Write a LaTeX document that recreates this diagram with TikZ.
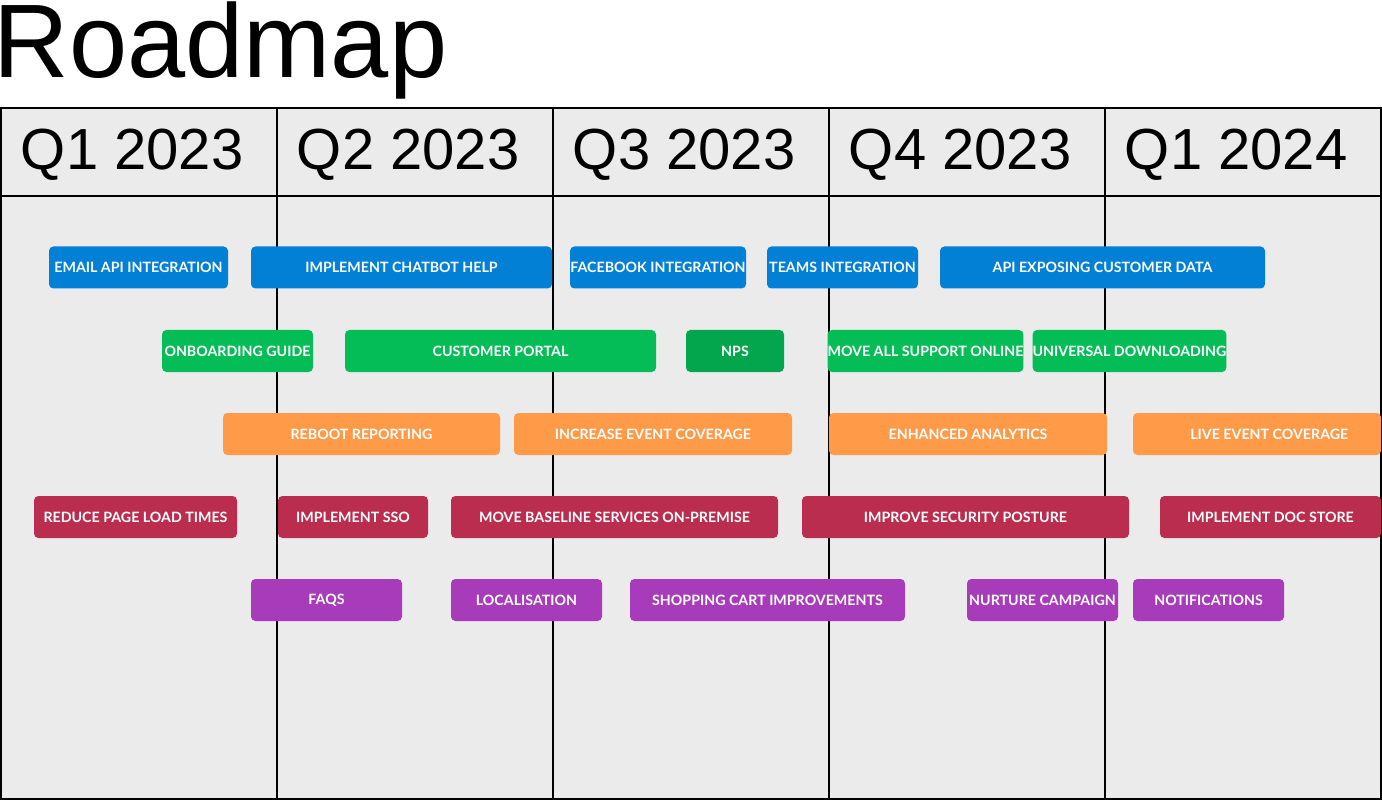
\documentclass[tikz,border=0pt]{standalone}
\usepackage{fontspec}
\setmainfont{Liberation Sans}
\newfontfamily\taskfont{Lato}
\definecolor{panelgrey}{HTML}{EBEBEB}
\definecolor{taskblue}{HTML}{0280D6}
\definecolor{taskgreen}{HTML}{05BD56}
\definecolor{npsgreen}{HTML}{04A64D}
\definecolor{taskorange}{HTML}{FF9A48}
\definecolor{taskred}{HTML}{BA2D4E}
\definecolor{taskpurple}{HTML}{A83BBA}
\begin{document}
\begin{tikzpicture}[x=0.02cm, y=-0.02cm, line width=1.1pt,
    task/.style={rounded corners=2.5pt, inner sep=0pt, minimum height=42*0.02cm,
      text=white, font=\taskfont\bfseries\fontsize{8.1}{10}\selectfont},
    quarter/.style={anchor=base west, inner sep=0pt, font=\fontsize{33}{36}\selectfont}]
  \useasboundingbox (0,0) rectangle (1382,800);
  % titre
  \node[anchor=base west, inner sep=0pt, font=\fontsize{59.5}{62}\selectfont] (title) at (-7,78) {Roadmap};

  % colonnes des trimestres
  \foreach \q/\lab [count=\i from 0] in {qa/Q1 2023, qb/Q2 2023, qc/Q3 2023, qd/Q4 2023, qe/Q1 2024} {
    \draw[fill=panelgrey] (1+276*\i,108) rectangle +(276,691);
    \draw (1+276*\i,196) -- +(276,0);
    \node[quarter] (\q) at (20+276*\i,170) {\lab};
  }

  % ligne 1 : integrations
  \node[task, fill=taskblue, minimum width=179*0.02cm] (email) at (138.5,267.5) {EMAIL API INTEGRATION};
  \node[task, fill=taskblue, minimum width=301*0.02cm] (chatbot) at (401.5,267.5) {IMPLEMENT CHATBOT HELP};
  \node[task, fill=taskblue, minimum width=176*0.02cm] (facebook) at (658,267.5) {FACEBOOK INTEGRATION};
  \node[task, fill=taskblue, minimum width=151*0.02cm] (teams) at (842.5,267.5) {TEAMS INTEGRATION};
  \node[task, fill=taskblue, minimum width=325*0.02cm] (apidata) at (1102.5,267.5) {API EXPOSING CUSTOMER DATA};

  % ligne 2 : clients
  \node[task, fill=taskgreen, minimum width=151*0.02cm] (onboarding) at (237.5,351) {ONBOARDING GUIDE};
  \node[task, fill=taskgreen, minimum width=311*0.02cm] (portal) at (500.5,351) {CUSTOMER PORTAL};
  \node[task, fill=npsgreen, minimum width=98*0.02cm] (nps) at (735,351) {NPS};
  \node[task, fill=taskgreen, minimum width=193*0.02cm] (support) at (925.5,351) {MOVE ALL SUPPORT ONLINE};
  \node[task, fill=taskgreen, minimum width=193*0.02cm] (download) at (1129.5,351) {UNIVERSAL DOWNLOADING};

  % ligne 3 : donnees
  \node[task, fill=taskorange, minimum width=277*0.02cm] (reboot) at (361.5,434) {REBOOT REPORTING};
  \node[task, fill=taskorange, minimum width=278*0.02cm] (increase) at (653,434) {INCREASE EVENT COVERAGE};
  \node[task, fill=taskorange, minimum width=278*0.02cm] (analytics) at (968,434) {ENHANCED ANALYTICS};
  \node[task, fill=taskorange, minimum width=248*0.02cm] (live) at (1257,434) {\hspace*{14pt}LIVE EVENT COVERAGE};

  % ligne 4 : infrastructure
  \node[task, fill=taskred, minimum width=203*0.02cm] (pageload) at (135.5,517) {REDUCE PAGE LOAD TIMES};
  \node[task, fill=taskred, minimum width=150*0.02cm] (sso) at (353,517) {IMPLEMENT SSO};
  \node[task, fill=taskred, minimum width=327*0.02cm] (baseline) at (614.5,517) {MOVE BASELINE SERVICES ON-PREMISE};
  \node[task, fill=taskred, minimum width=327*0.02cm] (security) at (965.5,517) {IMPROVE SECURITY POSTURE};
  \node[task, fill=taskred, minimum width=221*0.02cm] (docstore) at (1270.5,517) {IMPLEMENT DOC STORE};

  % ligne 5 : produit
  \node[task, fill=taskpurple, minimum width=151*0.02cm] (faqs) at (326.5,600) {FAQS};
  \node[task, fill=taskpurple, minimum width=151*0.02cm] (localisation) at (526.5,600) {LOCALISATION};
  \node[task, fill=taskpurple, minimum width=275*0.02cm] (cart) at (767.5,600) {SHOPPING CART IMPROVEMENTS};
  \node[task, fill=taskpurple, minimum width=151*0.02cm] (nurture) at (1042.5,600) {NURTURE CAMPAIGN};
  \node[task, fill=taskpurple, minimum width=151*0.02cm] (notifications) at (1208.5,600) {NOTIFICATIONS};
\end{tikzpicture}
\end{document}
